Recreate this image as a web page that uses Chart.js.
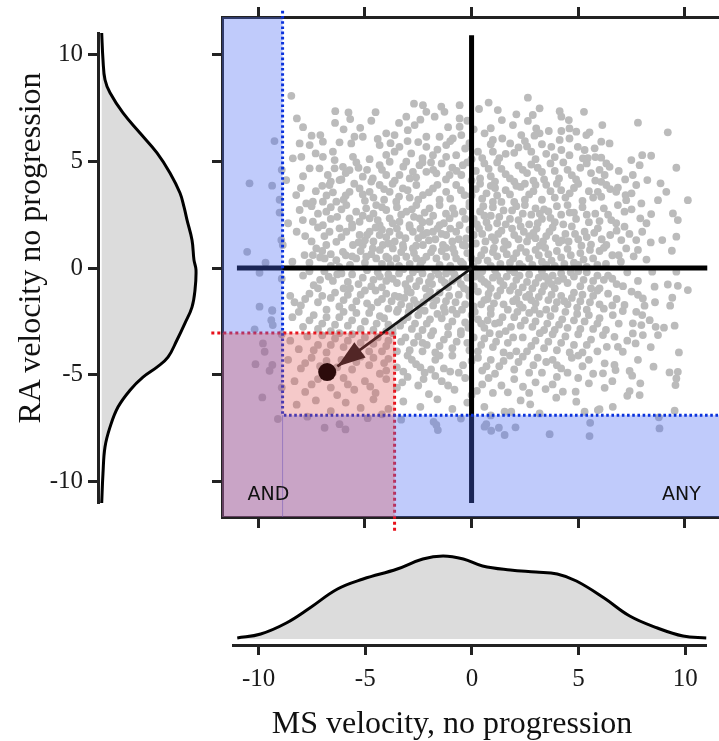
<!DOCTYPE html>
<html>
<head>
<meta charset="utf-8">
<script src="https://cdn.jsdelivr.net/npm/chart.js@4.4.0/dist/chart.umd.min.js"></script>
<style>
  body { margin: 0; background: #fff; }
  #page { position: relative; width: 719px; height: 741px; overflow: hidden; }
  .box { position: absolute; }
  .title { position: absolute; font-family: 'Liberation Serif', serif; font-size: 32px; line-height: 32px; color: #111; white-space: nowrap; text-align: center; }
</style>
</head>
<body>
<div id="page">
  <div class="box" style="left:0;top:0"><canvas id="raChart" width="200" height="541"></canvas></div>
  <div class="box" style="left:200px;top:0"><canvas id="mainChart" width="519" height="541"></canvas></div>
  <div class="box" style="left:222px;top:530px"><canvas id="msChart" width="497" height="211"></canvas></div>
  <div class="title" style="left:252px;top:706px;width:400px">MS velocity, no progression</div>
  <div class="title" style="left:-171px;top:232px;width:400px;transform:rotate(-90deg)">RA velocity no progression</div>
</div>
<script>
// tick labels shared by all axes
const tickValues = [-10, -5, 0, 5, 10];

// cut-offs for the AND / ANY regions
const anyCut = { ms: -8.86, ra: -6.89 };
const andCut = { ms: -3.61, ra: -3.04 };

// mean decline and arrow from the origin
const meanPoint = [-6.77, -4.87];
const arrowTip = [-6.29, -4.61];
const crossMs = [-11.0, 11.05];
const crossRa = [-11.0, 10.9];

// marginal densities
const msGrid = [-11.0, -9.9, -8.7, -7.6, -6.3, -5.1, -3.5, -2.3, -1.35, -0.4, 0.5, 1.8, 3.0, 4.0, 4.9, 6.2, 7.4, 8.7, 9.9, 11.0];
const msDensity = [0.001, 0.005, 0.016, 0.031, 0.050, 0.060, 0.070, 0.080, 0.083, 0.080, 0.073, 0.069, 0.067, 0.065, 0.058, 0.041, 0.023, 0.011, 0.003, 0.001];
const raGrid = [11.0, 9.74, 8.81, 8.20, 7.26, 6.32, 5.39, 4.45, 3.51, 2.86, 2.25, 1.31, 0.37, -0.09, -1.03, -1.83, -2.58, -3.37, -4.17, -4.64, -5.11, -5.72, -6.51, -7.45, -8.38, -9.60, -11.0];
const raDensity = [0.0007, 0.002, 0.004, 0.009, 0.022, 0.039, 0.056, 0.069, 0.079, 0.083, 0.086, 0.091, 0.093, 0.095, 0.094, 0.091, 0.084, 0.076, 0.067, 0.056, 0.042, 0.029, 0.017, 0.009, 0.004, 0.002, 0.0007];

// [MS velocity, RA velocity] per patient
const patients = [
[-8.45,8.07],[-8.19,7.01],[-6.39,7.35],[-5.77,7.29],[-5.69,6.98],[-4.5,7.3],[-3.06,7.09],[-2.28,7.63],[-2.12,7.32],[-1.73,7.09],[-1.42,7.56],[-1.27,7.32],[-0.56,7.63],[-0.56,7.01],[0.35,7.45],[0.8,7.75],[1.23,7.4],[2.64,7.98],[3.19,7.48],[2.1,7.2],[4.13,7.35],[5.27,7.32],[2.87,7.17],[4.21,7.09],[-2.7,7.7],
[-7.09,6.23],[-5.22,6.57],[-4.0,6.31],[-3.61,6.23],[-2.99,6.46],[-2.67,6.7],[-2.12,6.15],[-1.5,6.15],[-0.88,6.07],[-0.48,6.23],[-0.56,6.62],[1.42,6.93],[2.64,6.89],[4.56,6.93],[1.94,6.7],[6.13,6.7],[7.8,6.81],[9.2,6.36],[0.61,6.31],[1.0,6.0],[1.44,6.07],[2.33,6.23],[3.03,6.54],[3.19,6.31],[3.62,6.42],[4.21,6.42],[4.59,6.54],[4.91,6.39],[5.38,6.23],[5.53,6.36],[4.59,6.07],[4.13,6.0],[-6.4,6.8],[-7.9,6.6],[-4.7,6.9],[-3.4,6.8],[-1.1,6.6],[0.1,6.5],[2.95,6.2],
[-8.06,5.84],[-7.59,5.76],[-6.97,5.92],[-6.19,5.89],[-5.64,5.84],[-5.49,6.15],[-7.31,5.37],[-6.97,5.21],[-6.5,5.45],[-6.42,5.06],[-8.38,5.14],[-7.98,5.21],[-9.24,5.95],[-4.31,5.76],[-3.38,5.68],[-2.83,5.37],[-2.12,5.68],[-1.81,5.29],[-1.19,5.21],[-0.72,5.29],[-3.61,5.45],[-5.56,5.21],[-4.78,5.1],[-1.19,5.76],[-0.3,5.6],[0.3,5.45],[0.9,5.8],[1.81,5.84],[1.3,5.15],[2.0,5.4],[2.6,5.7],[3.0,5.1],[3.74,5.68],[4.21,5.53],[4.59,5.29],[5.22,5.14],[5.45,5.15],[5.3,5.53],[4.98,5.68],[5.77,5.61],[6.08,5.92],[6.47,5.84],[6.08,5.17],[8.42,5.26],[8.0,5.29],[7.49,5.06],[2.5,5.95],[-2.5,5.9],[-4.0,5.3],[0.0,5.1],[3.5,5.35],[-3.0,5.95],
[-7.5,6.2],[-6.0,6.5],[-4.4,6.05],[-3.8,5.85],[-2.3,5.15],[-1.6,5.55],[-1.0,5.95],[-0.1,5.85],[0.5,5.15],[1.0,5.45],[1.6,5.35],[2.2,5.65],[2.8,5.45],[3.3,5.8],[3.9,5.2],[5.8,5.2],[-0.2,6.9],[0.9,6.55],[-2.4,6.95],[-5.1,6.15],
[-8.9,4.6],[-7.59,4.67],[-7.13,4.67],[-6.74,4.36],[-6.42,4.67],[-6.03,4.74],[-5.72,4.59],[-5.1,4.28],[-4.63,4.2],[-4.31,4.82],[-3.84,4.98],[-3.06,4.98],[-2.44,4.82],[-4.0,4.36],[-3.38,4.36],[-2.75,4.51],[-2.12,4.51],[-1.65,4.44],[-1.03,4.36],[-0.48,4.36],[-0.41,4.82],[-1.4,4.9],[-0.9,4.7],[0.2,4.55],[0.6,4.9],[0.9,4.3],[1.4,4.65],[1.8,4.2],[2.2,4.8],[2.6,4.45],[3.1,4.7],[3.4,4.15],[3.9,4.55],[4.3,4.95],[4.7,4.35],[5.1,4.7],[5.6,4.45],[6.32,4.9],[6.47,4.74],[6.24,4.36],[7.88,4.82],[7.56,4.36],[9.6,4.7],[8.24,4.12],[-5.4,4.95],[-7.9,4.3],[-6.1,4.15],[-4.9,4.6],[-2.9,4.2],[-1.9,4.95],[0.0,4.1],[1.1,4.05],[2.9,4.1],[4.1,4.2],[5.8,4.1],[6.9,4.55],
[-6.6,4.05],[-5.9,4.45],[-5.3,4.7],[-4.7,4.05],[-4.2,4.6],[-3.6,4.1],[-3.2,4.75],[-2.6,4.25],[-2.3,4.95],[-1.8,4.6],[-1.2,4.15],[-0.7,4.55],[-0.2,4.95],[0.4,4.2],[0.8,4.65],[1.2,4.95],[1.6,4.4],[2.0,4.05],[2.4,4.6],[2.8,4.85],[3.3,4.5],[3.7,4.9],[4.5,4.6],[4.9,4.15],[5.4,4.9],[6.0,4.6],[7.2,4.15],
[-10.41,3.97],[-9.35,3.86],[-8.69,4.12],[-8.22,3.42],[-7.75,3.03],[-7.44,3.11],[-6.97,3.11],[-6.66,3.89],[-6.19,4.12],[-6.34,3.11],[-5.72,3.57],[-5.25,3.73],[-4.78,3.57],[-4.31,3.89],[-3.84,3.57],[-3.22,3.73],[-2.59,3.89],[-2.28,3.42],[-1.81,3.73],[-1.19,3.57],[-0.72,3.89],[-0.33,3.42],[-3.53,3.11],[-1.5,3.2],[-2.9,3.3],[-4.1,3.2],[-5.0,3.15],[-5.9,3.4],[-7.3,3.6],[0.2,3.7],[0.5,3.25],[0.9,3.85],[1.2,3.4],[1.6,3.65],[2.0,3.1],[2.3,3.8],[2.7,3.45],[3.0,3.9],[3.3,3.2],[3.7,3.6],[4.0,3.95],[4.4,3.3],[4.8,3.75],[5.2,3.15],[5.5,3.6],[5.92,3.57],[6.08,3.34],[6.08,4.04],[6.32,3.89],[6.78,3.57],[7.22,3.42],[6.86,3.77],[7.25,3.18],[7.72,3.89],[8.86,3.97],[9.13,3.57],[8.74,3.18],[10.14,3.18],[7.96,3.03],[-0.1,3.05],[1.0,3.1],[2.5,3.95],[4.2,3.65],[-8.0,3.75],[-6.8,3.4],[-9.0,3.2],
[-7.0,3.85],[-6.5,3.55],[-6.0,3.2],[-5.5,3.95],[-5.1,3.45],[-4.6,3.3],[-4.1,3.7],[-3.7,3.95],[-3.4,3.35],[-3.0,3.65],[-2.5,3.2],[-2.0,3.55],[-1.6,3.9],[-1.0,3.25],[-0.5,3.65],[0.0,3.4],[0.4,3.95],[0.7,3.5],[1.1,3.75],[1.4,3.1],[1.8,3.45],[2.1,3.85],[2.5,3.2],[2.9,3.6],[3.5,3.9],[3.9,3.3],[4.6,3.5],[5.0,3.95],[5.7,3.3],[6.5,3.7],[7.5,3.5],
[-9.0,2.6],[-8.06,2.72],[-7.91,2.25],[-7.44,2.17],[-6.81,2.64],[-6.97,2.01],[-5.87,2.95],[-5.41,2.64],[-4.94,2.8],[-4.47,2.95],[-4.0,2.72],[-3.06,2.64],[-2.59,2.95],[-1.97,2.8],[-1.5,2.95],[-0.88,2.8],[-0.41,2.64],[-5.72,2.33],[-5.25,2.17],[-4.78,2.33],[-4.31,2.01],[-3.84,2.33],[-3.38,2.17],[-2.91,2.01],[-2.44,2.33],[-1.97,2.17],[-1.5,2.01],[-1.03,2.33],[-0.56,2.01],[-6.3,2.4],[-7.5,2.9],[-3.5,2.85],[-2.2,2.6],[-1.2,2.55],[-0.1,2.9],[0.1,2.3],[0.4,2.65],[0.7,2.15],[1.0,2.85],[1.3,2.4],[1.6,2.05],[1.9,2.7],[2.2,2.25],[2.5,2.95],[2.8,2.5],[3.1,2.1],[3.4,2.75],[3.7,2.35],[4.0,2.9],[4.3,2.05],[4.6,2.6],[4.9,2.3],[5.2,2.85],[5.5,2.15],[5.8,2.55],[6.86,2.95],[6.55,2.25],[6.78,2.1],[7.17,2.64],[7.91,2.33],[8.42,2.53],[9.44,2.56],[9.67,2.25],[6.2,2.8],[-8.6,2.1],[-6.6,2.85],[-4.6,2.55],[-2.7,2.4],[0.6,2.45],[3.2,2.55],
[-7.2,2.55],[-6.6,2.3],[-6.1,2.75],[-5.6,2.05],[-5.1,2.45],[-4.4,2.25],[-4.2,2.85],[-3.7,2.1],[-3.3,2.5],[-2.8,2.75],[-2.3,2.15],[-1.8,2.45],[-1.3,2.1],[-0.8,2.55],[-0.3,2.3],[0.25,2.05],[0.55,2.9],[0.9,2.45],[1.2,2.1],[1.5,2.7],[1.8,2.3],[2.1,2.9],[2.4,2.55],[2.7,2.05],[3.0,2.8],[3.3,2.3],[3.6,2.65],[3.9,2.15],[4.2,2.5],[4.5,2.95],[4.8,2.6],[5.4,2.5],[6.0,2.2],[6.4,2.5],[7.5,2.75],[8.2,2.1],
[-8.92,1.31],[-8.85,1.08],[-6.66,1.7],[-6.19,1.86],[-5.87,1.7],[-4.78,1.7],[-4.31,1.55],[-3.84,1.7],[-3.38,1.55],[-2.75,1.7],[-2.28,1.55],[-1.81,1.7],[-1.19,1.55],[-0.72,1.7],[-0.25,1.39],[-5.25,1.55],[-6.81,1.08],[-6.34,1.23],[-5.56,1.08],[-5.1,1.08],[-4.16,1.08],[-3.22,1.08],[-2.28,1.08],[-1.34,1.08],[-0.41,1.08],[-7.8,1.5],[-7.2,1.9],[-5.0,1.3],[-4.5,1.9],[-3.6,1.25],[-2.9,1.9],[-2.0,1.3],[-1.6,1.85],[-0.9,1.25],[-0.1,1.8],[0.2,1.15],[0.5,1.6],[0.8,1.9],[1.1,1.3],[1.4,1.75],[1.7,1.1],[2.0,1.55],[2.3,1.95],[2.6,1.25],[2.9,1.65],[3.2,1.05],[3.5,1.5],[3.8,1.9],[4.1,1.2],[4.4,1.6],[4.7,1.95],[5.0,1.35],[5.3,1.7],[5.6,1.1],[5.92,1.86],[6.32,1.08],[7.02,1.31],[7.17,1.94],[7.72,1.31],[8.0,1.7],[8.94,1.31],[9.6,1.47],[6.5,1.55],[0.95,1.45],[2.45,1.7],[4.25,1.3],[-8.2,1.7],[-4.0,1.45],[-2.5,1.4],[1.55,1.25],[3.0,1.4],[5.4,1.45],
[-7.5,1.25],[-6.9,1.5],[-6.1,1.45],[-5.6,1.9],[-5.3,1.2],[-4.9,1.55],[-4.6,1.25],[-4.2,1.8],[-3.9,1.15],[-3.5,1.85],[-3.1,1.4],[-2.6,1.05],[-2.4,1.85],[-2.1,1.65],[-1.7,1.35],[-1.4,1.6],[-1.0,1.85],[-0.6,1.35],[-0.3,1.05],[0.1,1.55],[0.35,1.85],[0.65,1.25],[1.25,1.6],[1.9,1.85],[2.2,1.35],[2.7,1.5],[3.05,1.85],[3.35,1.25],[3.65,1.7],[3.95,1.4],[4.55,1.25],[4.85,1.6],[5.15,1.05],[5.75,1.65],[6.1,1.35],[6.8,1.75],[7.4,1.6],[8.4,1.2],
[-10.52,0.76],[-9.66,0.25],[-7.44,0.61],[-7.83,0.61],[-6.89,0.45],[-6.34,0.37],[-7.28,0.92],[-6.03,0.76],[-4.63,0.92],[-3.69,0.92],[-2.75,0.92],[-1.81,0.92],[-0.88,0.92],[-5.41,0.45],[-4.94,0.53],[-4.47,0.45],[-4.0,0.53],[-3.53,0.45],[-3.06,0.53],[-2.59,0.45],[-2.12,0.53],[-1.65,0.45],[-1.19,0.53],[-0.72,0.45],[-8.4,0.3],[-5.7,0.15],[-5.2,0.8],[-4.2,0.2],[-3.3,0.75],[-2.4,0.15],[-1.4,0.8],[-0.4,0.2],[-0.2,0.7],[0.3,0.35],[0.6,0.85],[0.9,0.1],[1.2,0.55],[1.5,0.9],[1.8,0.25],[2.1,0.7],[2.4,0.05],[2.7,0.45],[3.0,0.85],[3.3,0.3],[3.6,0.65],[3.9,0.1],[4.2,0.5],[4.5,0.9],[4.8,0.25],[5.1,0.7],[5.4,0.05],[5.7,0.45],[6.0,0.8],[6.3,0.2],[6.6,0.6],[7.25,0.92],[7.0,0.3],[7.6,0.55],[9.39,0.81],[8.2,0.4],[-6.6,0.1],[-7.0,0.8],[-3.8,0.15],[-2.9,0.2],[-1.0,0.1],[0.1,0.05],[1.0,0.75],[2.3,0.95],[3.5,0.15],[4.0,0.8],[5.0,0.15],[6.2,0.95],[-5.9,0.6],
[-7.6,0.25],[-7.1,0.5],[-6.6,0.65],[-6.2,0.05],[-5.6,0.55],[-5.0,0.25],[-4.7,0.65],[-4.3,0.85],[-3.9,0.45],[-3.4,0.1],[-3.2,0.95],[-2.7,0.7],[-2.3,0.35],[-1.9,0.75],[-1.5,0.15],[-1.2,0.95],[-0.8,0.7],[-0.5,0.3],[0.0,0.45],[0.45,0.6],[0.75,0.35],[1.05,0.95],[1.35,0.2],[1.65,0.65],[1.95,0.45],[2.25,0.2],[2.55,0.75],[2.85,0.15],[3.15,0.6],[3.45,0.95],[3.75,0.35],[4.35,0.2],[4.65,0.6],[5.25,0.4],[5.55,0.85],[5.9,0.15],[6.9,0.6],[7.8,0.85],
[-9.94,-0.22],[-8.9,-0.5],[-7.9,-0.35],[-7.4,-0.8],[-6.9,-0.15],[-6.5,-0.6],[-6.0,-0.95],[-5.6,-0.3],[-5.3,-0.75],[-4.9,-0.1],[-4.6,-0.55],[-4.2,-0.9],[-3.9,-0.3],[-3.5,-0.7],[-3.2,-0.05],[-2.9,-0.5],[-2.6,-0.85],[-2.3,-0.25],[-2.0,-0.65],[-1.7,-0.1],[-1.4,-0.55],[-1.1,-0.9],[-0.8,-0.3],[-0.5,-0.75],[-0.2,-0.45],[0.3,-0.2],[0.6,-0.65],[0.9,-0.95],[1.2,-0.35],[1.5,-0.8],[1.8,-0.1],[2.1,-0.55],[2.4,-0.9],[2.7,-0.3],[3.0,-0.7],[3.3,-0.15],[3.6,-0.6],[3.9,-0.95],[4.2,-0.25],[4.5,-0.7],[4.8,-0.4],[5.1,-0.85],[5.4,-0.2],[5.7,-0.6],[6.0,-0.95],[6.4,-0.35],[6.8,-0.75],[7.3,-0.2],[7.8,-0.6],[8.47,-0.17],[9.6,-0.17],[8.58,-0.87],[9.67,-0.83],[9.2,-0.77],[10.14,-1.03],[-7.1,-0.55],[-5.8,-0.65],[-4.4,-0.2],[-3.0,-0.95],[-1.9,-0.4],[-0.9,-0.6],[0.1,-0.85],[1.0,-0.45],[2.0,-0.2],[3.4,-0.85],[4.3,-0.5],[5.0,-0.15],[6.2,-0.55],[-6.3,-0.3],[-4.0,-0.6],[-2.5,-0.05],[-1.2,-0.25],[0.45,-0.5],[2.6,-0.65],[3.8,-0.35],[5.6,-0.95],
[-7.6,-0.15],[-7.2,-0.95],[-6.7,-0.4],[-6.1,-0.25],[-5.7,-0.95],[-5.1,-0.45],[-4.7,-0.85],[-4.3,-0.4],[-3.7,-0.5],[-3.4,-0.25],[-3.1,-0.75],[-2.75,-0.2],[-2.45,-0.6],[-2.15,-0.95],[-1.85,-0.75],[-1.55,-0.3],[-1.25,-0.7],[-0.95,-0.15],[-0.65,-0.5],[-0.35,-0.95],[0.15,-0.4],[0.5,-0.15],[0.75,-0.75],[1.1,-0.1],[1.35,-0.6],[1.65,-0.4],[1.95,-0.85],[2.25,-0.35],[2.85,-0.95],[3.15,-0.45],[3.45,-0.4],[3.75,-0.75],[4.05,-0.6],[4.65,-0.2],[5.25,-0.55],[5.9,-0.35],[6.6,-0.5],[7.1,-0.85],
[-9.94,-1.81],[-9.35,-1.97],[-8.5,-1.3],[-8.0,-1.75],[-7.6,-1.2],[-7.2,-1.6],[-6.8,-1.95],[-6.4,-1.15],[-6.0,-1.5],[-5.6,-1.85],[-5.2,-1.25],[-4.9,-1.65],[-4.5,-1.05],[-4.2,-1.45],[-3.9,-1.9],[-3.6,-1.3],[-3.3,-1.7],[-3.0,-1.1],[-2.7,-1.5],[-2.4,-1.95],[-2.1,-1.35],[-1.8,-1.75],[-1.5,-1.15],[-1.2,-1.55],[-0.9,-1.95],[-0.6,-1.25],[-0.3,-1.7],[0.3,-1.1],[0.6,-1.5],[0.9,-1.9],[1.2,-1.3],[1.5,-1.7],[1.8,-1.05],[2.1,-1.45],[2.4,-1.85],[2.7,-1.25],[3.0,-1.65],[3.3,-1.1],[3.6,-1.5],[3.9,-1.9],[4.2,-1.3],[4.5,-1.7],[4.8,-1.15],[5.1,-1.55],[5.4,-1.95],[5.7,-1.3],[6.0,-1.7],[6.4,-1.2],[7.17,-1.73],[8.11,-1.76],[8.03,-1.42],[9.41,-1.39],[9.31,-1.76],[6.8,-1.45],[7.5,-1.1],[-5.4,-1.55],[-4.0,-1.2],[-2.9,-1.8],[-1.9,-1.4],[-0.1,-1.3],[0.8,-1.2],[1.7,-1.95],[2.8,-1.5],[4.0,-1.6],[5.2,-1.25],[-6.6,-1.4],[-3.4,-1.35],[-1.3,-1.85],[0.1,-1.8],[2.2,-1.15],[3.5,-1.95],[4.7,-1.4],[6.2,-1.9],[-8.3,-1.6],
[-7.8,-1.45],[-7.0,-1.3],[-6.2,-1.8],[-5.8,-1.25],[-5.0,-1.05],[-4.7,-1.85],[-4.4,-1.6],[-3.75,-1.55],[-3.45,-1.95],[-3.15,-1.4],[-2.85,-1.15],[-2.55,-1.7],[-2.25,-1.6],[-1.95,-1.1],[-1.65,-1.5],[-1.05,-1.3],[-0.75,-1.6],[-0.45,-1.95],[-0.15,-1.05],[0.45,-1.7],[0.75,-1.45],[1.05,-1.65],[1.35,-1.05],[1.95,-1.55],[2.25,-1.7],[2.55,-1.35],[2.95,-1.95],[3.15,-1.35],[3.75,-1.25],[4.35,-1.55],[4.95,-1.85],[5.55,-1.6],[5.9,-1.05],[6.6,-1.75],[7.8,-1.25],[8.6,-1.6],
[-9.34,-2.0],[-9.39,-2.44],[-9.32,-2.67],[-10.17,-2.87],[-8.4,-2.3],[-7.9,-2.75],[-7.4,-2.2],[-7.0,-2.6],[-6.6,-2.95],[-6.2,-2.3],[-5.8,-2.7],[-5.4,-2.1],[-5.0,-2.5],[-4.6,-2.9],[-4.3,-2.25],[-3.9,-2.65],[-3.5,-2.05],[-3.2,-2.45],[-2.8,-2.85],[-2.5,-2.2],[-2.1,-2.6],[-1.8,-2.95],[-1.4,-2.35],[-1.1,-2.75],[-0.7,-2.15],[-0.3,-2.55],[0.3,-2.4],[0.6,-2.8],[0.9,-2.15],[1.3,-2.55],[1.6,-2.95],[2.0,-2.3],[2.3,-2.7],[2.7,-2.1],[3.0,-2.5],[3.4,-2.9],[3.7,-2.25],[4.1,-2.65],[4.4,-2.05],[4.8,-2.45],[5.1,-2.85],[5.5,-2.2],[5.9,-2.6],[6.62,-2.2],[7.09,-2.01],[7.72,-2.05],[7.56,-2.59],[8.35,-2.44],[7.96,-2.67],[9.52,-2.7],[9.02,-2.79],[8.63,-2.75],[6.3,-2.9],[-6.0,-2.05],[-4.0,-2.95],[-2.2,-2.0],[-0.5,-2.95],[1.1,-2.6],[2.5,-2.45],[3.9,-2.9],[5.3,-2.5],[-7.6,-2.45],[-3.0,-2.3],[-1.6,-2.15],[0.0,-2.2],[4.5,-2.8],[6.0,-2.35],
[-8.1,-2.05],[-7.2,-2.85],[-6.8,-2.3],[-6.4,-2.65],[-5.6,-2.45],[-5.2,-2.85],[-4.8,-2.1],[-4.45,-2.6],[-4.1,-2.35],[-3.7,-2.85],[-3.35,-2.7],[-2.95,-2.05],[-2.65,-2.6],[-2.3,-2.9],[-1.95,-2.4],[-1.25,-2.05],[-0.9,-2.5],[-0.15,-2.8],[0.15,-2.05],[0.45,-2.6],[0.75,-2.45],[1.45,-2.3],[1.85,-2.75],[2.15,-2.05],[2.85,-2.75],[3.2,-2.15],[3.55,-2.6],[4.25,-2.4],[4.95,-2.15],[5.7,-2.85],[6.9,-2.6],[8.0,-2.2],
[-9.78,-3.53],[-9.7,-3.92],[-8.5,-3.4],[-8.1,-3.8],[-7.7,-3.2],[-7.2,-3.6],[-6.8,-3.95],[-6.4,-3.3],[-6.0,-3.7],[-5.6,-3.1],[-5.2,-3.5],[-4.8,-3.9],[-4.4,-3.25],[-4.0,-3.65],[-3.7,-3.05],[-3.3,-3.45],[-2.9,-3.85],[-2.5,-3.2],[-2.1,-3.6],[-1.7,-3.95],[-1.3,-3.35],[-0.9,-3.75],[-0.5,-3.1],[-0.2,-3.5],[0.3,-3.9],[0.6,-3.3],[1.0,-3.7],[1.3,-3.1],[1.7,-3.5],[2.1,-3.9],[2.4,-3.25],[2.8,-3.65],[3.2,-3.05],[3.6,-3.45],[4.0,-3.85],[4.4,-3.2],[4.8,-3.6],[5.2,-3.95],[5.6,-3.35],[6.16,-3.14],[6.7,-3.22],[6.86,-3.69],[7.09,-3.92],[7.56,-3.06],[7.69,-3.53],[8.03,-3.14],[8.74,-3.14],[9.72,-3.95],[6.34,-3.69],[-7.0,-3.15],[-5.4,-3.85],[-3.5,-3.9],[-1.9,-3.15],[-0.1,-3.85],[1.5,-3.95],[3.4,-3.75],[5.0,-3.1],[-8.9,-3.1],[-4.6,-3.55],[-2.3,-3.5],
[-7.4,-3.85],[-6.6,-3.6],[-6.2,-3.05],[-5.8,-3.4],[-5.0,-3.25],[-4.2,-3.9],[-3.9,-3.4],[-3.1,-3.25],[-2.7,-3.5],[-2.3,-3.9],[-1.5,-3.65],[-1.1,-3.1],[-0.7,-3.45],[0.1,-3.25],[0.45,-3.6],[0.85,-3.05],[1.15,-3.45],[1.95,-3.25],[2.6,-3.9],[3.0,-3.4],[3.8,-3.1],[4.2,-3.5],[4.6,-3.95],[5.4,-3.6],[5.9,-3.9],[7.3,-3.4],[8.4,-3.7],
[-10.13,-4.5],[-9.34,-4.54],[-9.47,-4.81],[-8.6,-4.3],[-8.0,-4.7],[-7.5,-4.2],[-7.1,-4.6],[-6.5,-4.9],[-6.1,-4.3],[-5.6,-4.75],[-5.2,-4.15],[-4.8,-4.55],[-4.3,-4.95],[-3.9,-4.25],[-3.5,-4.65],[-3.0,-4.1],[-2.6,-4.5],[-2.2,-4.9],[-1.7,-4.3],[-1.3,-4.7],[-0.9,-4.1],[-0.4,-4.55],[0.3,-4.2],[0.7,-4.6],[1.1,-4.95],[1.5,-4.35],[2.0,-4.75],[2.4,-4.15],[2.9,-4.55],[3.3,-4.9],[3.8,-4.3],[4.2,-4.7],[4.7,-4.2],[5.2,-4.6],[5.7,-4.95],[6.24,-4.46],[6.7,-4.54],[6.75,-4.78],[6.16,-4.93],[7.41,-4.82],[8.53,-4.62],[9.28,-4.89],[9.67,-4.86],[-6.8,-4.35],[-4.0,-4.8],[-1.0,-4.85],[0.0,-4.35],[1.8,-4.1],[3.5,-4.4],[5.0,-4.1],
[-7.8,-4.45],[-6.3,-4.65],[-5.4,-4.4],[-4.6,-4.2],[-4.1,-4.45],[-3.2,-4.85],[-2.8,-4.3],[-2.4,-4.65],[-1.9,-4.75],[-1.5,-4.1],[-0.6,-4.9],[0.5,-4.8],[0.9,-4.3],[1.3,-4.6],[2.2,-4.4],[2.7,-4.9],[3.1,-4.2],[4.0,-4.55],[4.5,-4.9],[5.5,-4.3],[7.8,-4.3],
[-9.81,-6.06],[-8.3,-5.3],[-7.8,-5.8],[-7.2,-5.2],[-6.6,-5.6],[-6.0,-5.15],[-5.5,-5.7],[-5.0,-5.3],[-4.5,-5.85],[-4.0,-5.2],[-3.5,-5.6],[-3.0,-5.1],[-2.5,-5.5],[-2.0,-5.9],[-1.4,-5.3],[-0.8,-5.7],[-0.3,-5.15],[0.5,-5.45],[1.0,-5.85],[1.7,-5.82],[2.41,-5.56],[2.0,-5.2],[3.0,-5.35],[3.47,-5.67],[4.28,-5.79],[4.88,-5.79],[4.0,-5.1],[5.5,-5.4],[6.24,-5.61],[7.53,-5.04],[7.91,-5.4],[7.41,-5.76],[7.3,-5.98],[7.88,-5.95],[9.6,-5.17],[9.56,-5.48],[-8.9,-5.6],[-6.3,-5.95],[-1.7,-5.05],[0.0,-5.95],
[-7.5,-5.45],[-5.8,-5.45],[-4.75,-5.55],[-3.25,-5.35],[-2.25,-5.2],[-1.1,-5.5],[0.25,-5.75],[0.8,-5.15],[1.4,-5.5],[2.7,-5.85],[3.8,-5.45],[5.0,-5.15],[6.6,-5.3],
[-9.08,-7.07],[-7.7,-6.96],[-8.2,-6.4],[-7.3,-6.2],[-6.6,-6.7],[-5.9,-6.3],[-5.2,-6.55],[-4.6,-6.15],[-3.9,-6.6],[-3.2,-6.25],[-2.4,-6.5],[-1.6,-6.15],[-0.9,-6.6],[-0.2,-6.3],[0.6,-6.5],[1.55,-6.73],[1.86,-6.73],[2.75,-6.38],[3.19,-6.81],[3.97,-6.07],[4.91,-6.26],[5.3,-6.73],[5.92,-6.65],[6.0,-6.61],[6.62,-6.5],[8.78,-6.99],[9.52,-6.68],[-4.2,-6.85],[0.9,-6.9],[2.3,-6.2],
[-6.89,-7.48],[-6.19,-7.31],[-5.91,-7.56],[-4.87,-7.03],[-1.78,-7.2],[-1.65,-7.35],[-1.58,-7.59],[0.61,-7.43],[0.69,-7.31],[0.92,-7.62],[1.28,-7.48],[1.55,-7.82],[2.06,-7.46],[3.66,-7.78],[5.56,-7.25],[5.53,-7.87],[8.81,-7.51],[-3.3,-7.1],[-0.5,-7.05]
];

Chart.defaults.font.family = "'Liberation Serif', serif";

function fixedTicks(scale) {
  scale.ticks = tickValues.map(v => ({ value: v }));
}

const tickGrid = { drawOnChartArea: false, drawTicks: true, tickLength: 10, tickWidth: 3, tickColor: '#222' };
const axisBorder = { display: true, width: 3, color: '#222' };
const tickFont = { size: 25, family: "'Liberation Serif', serif" };
const noChrome = { legend: { display: false }, tooltip: { enabled: false } };

function dotted(ctx, color, width, dash, pts) {
  ctx.save();
  ctx.strokeStyle = color;
  ctx.lineWidth = width;
  ctx.setLineDash(dash);
  ctx.beginPath();
  ctx.moveTo(pts[0][0], pts[0][1]);
  for (let i = 1; i < pts.length; i++) ctx.lineTo(pts[i][0], pts[i][1]);
  ctx.stroke();
  ctx.restore();
}

// shaded regions, cut lines and arrow head, painted right after the arrow shaft
const regionPlugin = {
  id: 'regions',
  afterDatasetDraw(chart, args) {
    if (chart.data.datasets[args.index].label !== 'arrow') return;
    const ctx = chart.ctx;
    const px = v => chart.scales.x.getPixelForValue(v);
    const py = v => chart.scales.y.getPixelForValue(v);
    const a = chart.chartArea;

    // arrow head
    const x0 = px(0), y0 = py(0), x1 = px(arrowTip[0]), y1 = py(arrowTip[1]);
    const ang = Math.atan2(y1 - y0, x1 - x0);
    const len = 28, half = 9.5;
    ctx.save();
    ctx.fillStyle = '#161616';
    ctx.beginPath();
    ctx.moveTo(x1, y1);
    ctx.lineTo(x1 - len * Math.cos(ang) + half * Math.sin(ang), y1 - len * Math.sin(ang) - half * Math.cos(ang));
    ctx.lineTo(x1 - len * Math.cos(ang) - half * Math.sin(ang), y1 - len * Math.sin(ang) + half * Math.cos(ang));
    ctx.closePath();
    ctx.fill();
    ctx.restore();

    const xAnd = px(andCut.ms), yAnd = py(andCut.ra);
    const xAny = px(anyCut.ms), yAny = py(anyCut.ra);

    // AND cut lines
    dotted(ctx, '#e8101a', 3, [3, 3], [[px(-12.2), yAnd], [xAnd, yAnd], [xAnd, py(-12.3)]]);

    // ANY region
    ctx.save();
    ctx.fillStyle = 'rgba(75,106,244,0.35)';
    ctx.beginPath();
    ctx.moveTo(a.left, a.top);
    ctx.lineTo(xAny, a.top);
    ctx.lineTo(xAny, yAny);
    ctx.lineTo(a.right, yAny);
    ctx.lineTo(a.right, a.bottom);
    ctx.lineTo(a.left, a.bottom);
    ctx.closePath();
    ctx.fill();
    ctx.strokeStyle = 'rgba(80,100,230,0.6)';
    ctx.lineWidth = 1;
    ctx.beginPath();
    ctx.moveTo(xAny, yAny);
    ctx.lineTo(xAny, a.bottom);
    ctx.stroke();
    ctx.restore();

    dotted(ctx, '#0a32dc', 3, [2.6, 2.6], [[xAny, py(12.05)], [xAny, yAny], [a.right, yAny]]);

    // AND region
    ctx.save();
    ctx.fillStyle = 'rgba(222,75,75,0.3)';
    ctx.fillRect(a.left, yAnd, xAnd - a.left, a.bottom - yAnd);
    ctx.restore();
  },
  afterDatasetsDraw(chart) {
    const ctx = chart.ctx;
    const px = v => chart.scales.x.getPixelForValue(v);
    const py = v => chart.scales.y.getPixelForValue(v);
    ctx.save();
    ctx.font = "19px 'DejaVu Sans'";
    ctx.fillStyle = '#111';
    ctx.textBaseline = 'alphabetic';
    ctx.textAlign = 'left';
    ctx.fillText('AND', px(-10.5), py(-10.87));
    ctx.textAlign = 'right';
    ctx.fillText('ANY', px(10.75), py(-10.87));
    ctx.restore();
  }
};

new Chart(document.getElementById('mainChart'), {
  type: 'scatter',
  data: {
    datasets: [
      { label: 'patients', data: patients.map(p => ({ x: p[0], y: p[1] })), pointRadius: 3.9, pointBackgroundColor: '#bbbbbb', pointBorderWidth: 0, order: 10 },
      { label: 'crossMs', data: crossMs.map(v => ({ x: v, y: 0 })), showLine: true, borderColor: '#000', borderWidth: 5, pointRadius: 0, order: 9 },
      { label: 'crossRa', data: crossRa.map(v => ({ x: 0, y: v })), showLine: true, borderColor: '#000', borderWidth: 5, pointRadius: 0, order: 9 },
      { label: 'arrow', data: [{ x: 0, y: 0 }, { x: arrowTip[0], y: arrowTip[1] }], showLine: true, borderColor: '#161616', borderWidth: 2.8, pointRadius: 0, order: 8 },
      { label: 'mean', data: [{ x: meanPoint[0], y: meanPoint[1] }], pointRadius: 9, pointBackgroundColor: '#2c0b0b', pointBorderWidth: 0, order: 1 }
    ]
  },
  options: {
    responsive: false, animation: false, events: [],
    plugins: noChrome,
    layout: { padding: 0, autoPadding: false },
    scales: {
      x: { type: 'linear', position: 'bottom', min: -11.7, max: 11.6, afterBuildTicks: fixedTicks, afterFit: s => { s.height = 24; }, grid: { ...tickGrid, tickLength: 11 }, border: axisBorder, ticks: { display: false } },
      xTop: { type: 'linear', axis: 'x', position: 'top', min: -11.7, max: 11.6, afterBuildTicks: fixedTicks, afterFit: s => { s.height = 17; }, grid: tickGrid, border: axisBorder, ticks: { display: false } },
      y: { type: 'linear', position: 'left', min: -11.66, max: 11.76, afterBuildTicks: fixedTicks, afterFit: s => { s.width = 22; }, grid: tickGrid, border: axisBorder, ticks: { display: false } }
    }
  },
  plugins: [regionPlugin]
});

new Chart(document.getElementById('raChart'), {
  type: 'scatter',
  data: {
    datasets: [{ data: raGrid.map((v, i) => ({ x: raDensity[i], y: v })), showLine: true, fill: 'shape', backgroundColor: '#dcdcdc', borderColor: '#000', borderWidth: 3, pointRadius: 0, tension: 0.4 }]
  },
  options: {
    responsive: false, animation: false, events: [],
    plugins: noChrome,
    layout: { padding: { top: 33, bottom: 38, left: 0, right: 0 }, autoPadding: false },
    scales: {
      x: { type: 'linear', min: -0.003, max: 0.099, display: false },
      y: { type: 'linear', position: 'left', min: -11, max: 11, afterBuildTicks: fixedTicks, afterFit: s => { s.width = 98; }, grid: tickGrid, border: axisBorder, ticks: { color: '#1a1a1a', font: tickFont, padding: 5 } }
    }
  }
});

new Chart(document.getElementById('msChart'), {
  type: 'scatter',
  data: {
    datasets: [{ data: msGrid.map((v, i) => ({ x: v, y: msDensity[i] })), showLine: true, fill: 'origin', backgroundColor: '#dcdcdc', borderColor: '#000', borderWidth: 3, pointRadius: 0, tension: 0.4 }]
  },
  options: {
    responsive: false, animation: false, events: [],
    plugins: noChrome,
    layout: { padding: { left: 11, right: 12.5, top: 10, bottom: 0 }, autoPadding: false },
    scales: {
      x: { type: 'linear', position: 'bottom', min: -11.2, max: 11.0, afterBuildTicks: fixedTicks, afterFit: s => { s.height = 96; }, grid: tickGrid, border: axisBorder, ticks: { color: '#1a1a1a', font: tickFont, padding: 9, maxRotation: 0, autoSkip: false } },
      y: { type: 'linear', min: -0.006, max: 0.099, display: false }
    }
  }
});
</script>
</body>
</html>
